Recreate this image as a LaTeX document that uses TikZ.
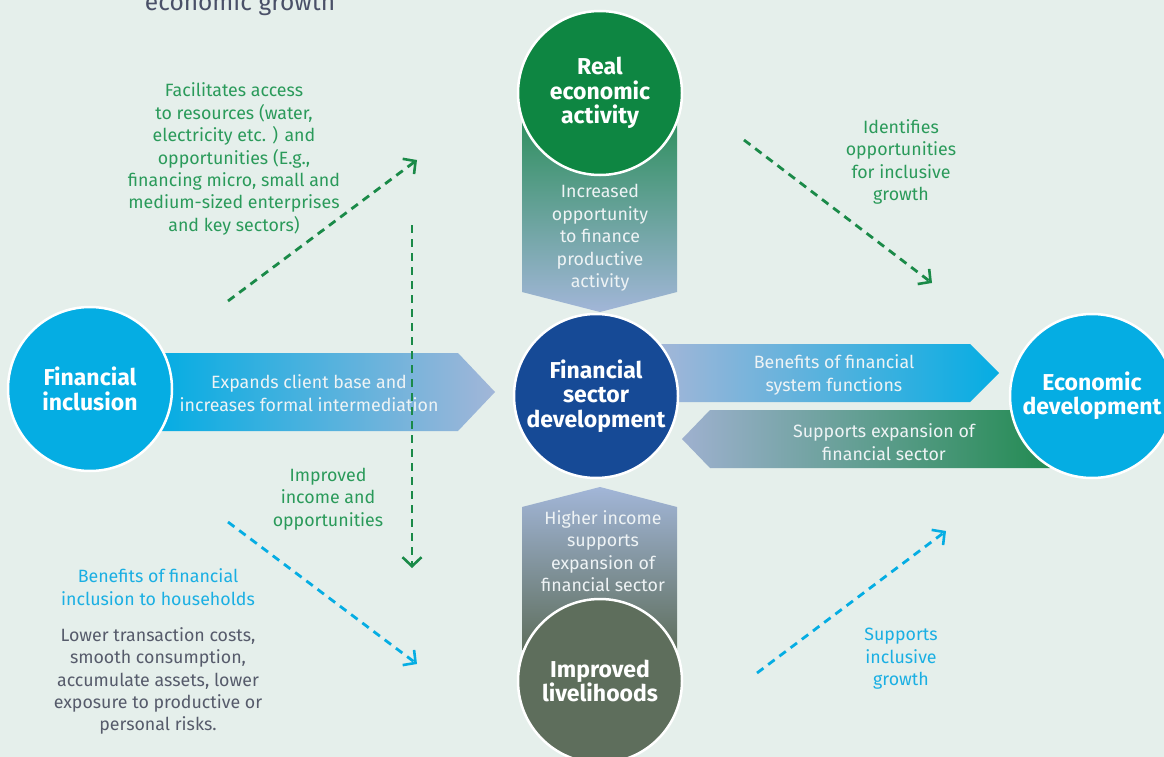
\documentclass[tikz,border=0pt]{standalone}
\usepackage{fontspec}
\setmainfont{Fira Sans}
\usetikzlibrary{arrows.meta}
\definecolor{bgc}{HTML}{E5EFEB}
\definecolor{realgreen}{HTML}{0E8642}
\definecolor{fsdblue}{HTML}{164A96}
\definecolor{livegray}{HTML}{5E6E5C}
\definecolor{cyanc}{HTML}{05ADE3}
\definecolor{paleblue}{HTML}{A2B6D8}
\definecolor{bandgreen}{HTML}{238B52}
\definecolor{txtgreen}{HTML}{2A9A5A}
\definecolor{dashgreen}{HTML}{1A8A48}
\definecolor{txtcyan}{HTML}{1AAFE3}
\definecolor{txtgray}{HTML}{565B6B}
\definecolor{titlegray}{HTML}{4A5068}
\definecolor{bandtxt}{HTML}{EEF3F5}
\tikzset{
  bigcircle/.style={circle, draw=white, line width=2.5pt, minimum size=164pt, inner sep=0pt,
    text=white, align=center, font=\bfseries\fontsize{23}{24.3}\selectfont},
  bandtext/.style={align=center, text=bandtxt, font=\fontsize{17.8}{22.4}\selectfont},
  labgreen/.style={align=center, text=txtgreen, font=\fontsize{17.8}{22.4}\selectfont},
  labcyan/.style={align=center, text=txtcyan, font=\fontsize{17.8}{22.4}\selectfont},
  labgray/.style={align=center, text=txtgray, font=\fontsize{17.8}{22.4}\selectfont},
  dashgr/.style={draw=dashgreen, line width=2.8pt, dash pattern=on 8pt off 6pt,
    -{Straight Barb[length=9pt,width=19pt,line width=2.6pt]}},
  dashcy/.style={draw=cyanc, line width=2.8pt, dash pattern=on 8pt off 6pt,
    -{Straight Barb[length=9pt,width=19pt,line width=2.6pt]}},
}
\begin{document}
\begin{tikzpicture}[x=1pt,y=-1pt]
\useasboundingbox (0,0) rectangle (1164,757);
\fill[bgc] (0,0) rectangle (1164,757);

% partially visible title
\node[anchor=base, text=titlegray, font=\fontsize{24.5}{26}\selectfont, inner sep=0pt] (title) at (240,11) {economic growth};

% bands
\shade[top color=bandgreen!90!paleblue, bottom color=paleblue]
  (522,120) -- (677,120) -- (677,292) -- (600,312) -- (522,292) -- cycle;
\shade[top color=paleblue, bottom color=livegray]
  (522,507) -- (600,487) -- (677,507) -- (677,650) -- (522,650) -- cycle;
\shade[left color=cyanc, right color=paleblue]
  (160,353) -- (458,353) -- (495,392) -- (458,431) -- (160,431) -- cycle;
\shade[left color=paleblue, right color=cyanc]
  (660,344) -- (970,344) -- (999,373) -- (970,402) -- (660,402) -- cycle;
\shade[left color=paleblue!90!gray, right color=bandgreen]
  (1050,410) -- (710,410) -- (682,439) -- (710,468) -- (1050,468) -- cycle;

% band texts
\node[bandtext] (t1) at (600,238) {Increased\\opportunity\\to finance\\productive\\activity};
\node[bandtext] (t2) at (603,551) {Higher income\\supports\\expansion of\\financial sector};
\node[bandtext] (t3) at (309,393) {Expands client base and\\increases formal intermediation};
\node[bandtext] (t4) at (834,375) {Benefits of financial\\system functions};
\node[bandtext] (t5) at (884,442) {Supports expansion of\\financial sector};

% circles
\node[bigcircle, fill=realgreen] (rea) at (600,93) {Real\\economic\\activity};
\node[bigcircle, fill=fsdblue] (fsd) at (596,396) {Financial\\sector\\development};
\node[bigcircle, fill=livegray] (liv) at (600,681) {Improved\\livelihoods};
\node[bigcircle, fill=cyanc] (fin) at (90,389) {Financial\\inclusion};
\node[bigcircle, fill=cyanc] (eco) at (1092,396) {Economic\\development};

% labels
\node[labgreen] (l1) at (234,159) {Facilitates access\\to resources (water,\\electricity etc. ) and\\opportunities (E.g.,\\financing micro, small and\\medium-sized enterprises\\and key sectors)};
\node[labgreen] (l2) at (901,162) {Identifies\\opportunities\\for inclusive\\growth};
\node[labgreen] (l3) at (328,499) {Improved\\income and\\opportunities};
\node[labcyan] (l4) at (158,587) {Benefits of financial\\inclusion to households};
\node[labgray] (l5) at (158,681) {Lower transaction costs,\\smooth consumption,\\accumulate assets, lower\\exposure to productive or\\personal risks.};
\node[labcyan] (l6) at (901,659) {Supports\\inclusive\\growth};

% dashed connectors
\coordinate (a1s) at (228,301); \coordinate (a1e) at (417,160);
\coordinate (a2s) at (412,225); \coordinate (a2e) at (412,568);
\coordinate (a3s) at (744,140); \coordinate (a3e) at (932,283);
\coordinate (a4s) at (228,522); \coordinate (a4e) at (417,664);
\coordinate (a5s) at (757,673); \coordinate (a5e) at (946,531);
\draw[dashgr] (a1s) -- (a1e);
\draw[dashgr] (a2s) -- (a2e);
\draw[dashgr] (a3s) -- (a3e);
\draw[dashcy] (a4s) -- (a4e);
\draw[dashcy] (a5s) -- (a5e);
\end{tikzpicture}
\end{document}
